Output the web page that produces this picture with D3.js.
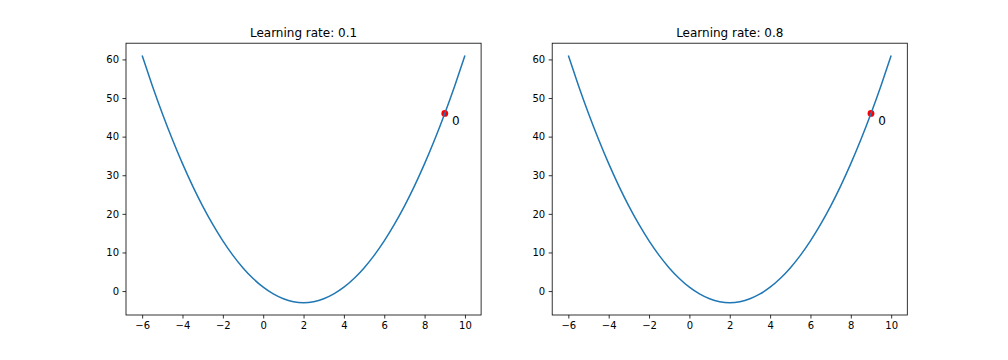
<!DOCTYPE html>
<html>
<head>
<meta charset="utf-8">
<script src="https://cdn.jsdelivr.net/npm/d3@7"></script>
<style>
body { margin: 0; background: #fff; }
svg { display: block; }
text { font-family: "DejaVu Sans", sans-serif; }
</style>
</head>
<body>
<svg id="chart" width="1008" height="360"></svg>
<script>
const titles = ["Learning rate: 0.1", "Learning rate: 0.8"];
const xs = [-6, -5.5, -5, -4.5, -4, -3.5, -3, -2.5, -2, -1.5, -1, -0.5, 0, 0.5, 1, 1.5, 2, 2.5, 3, 3.5, 4, 4.5, 5, 5.5, 6, 6.5, 7, 7.5, 8, 8.5, 9, 9.5, 10];
const ys = [61, 53.25, 46, 39.25, 33, 27.25, 22, 17.25, 13, 9.25, 6, 3.25, 1, -0.75, -2, -2.75, -3, -2.75, -2, -0.75, 1, 3.25, 6, 9.25, 13, 17.25, 22, 27.25, 33, 39.25, 46, 53.25, 61];
const pointX = [9];
const pointY = [46];
const pointLabel = ["0"];
const xTicks = [-6, -4, -2, 0, 2, 4, 6, 8, 10];
const yTicks = [0, 10, 20, 30, 40, 50, 60];

const svg = d3.select("#chart");
const axesLeft = [126, 552.2];
const axW = 355.1, axTop = 43.2, axBottom = 315;

const xMin = d3.min(xs), xMax = d3.max(xs);
const yMin = d3.min(ys), yMax = d3.max(ys);
const xPad = (xMax - xMin) * 0.05, yPad = (yMax - yMin) * 0.05;

titles.forEach((title, i) => {
  const left = axesLeft[i];
  const x = d3.scaleLinear().domain([xMin - xPad, xMax + xPad]).range([left, left + axW]);
  const y = d3.scaleLinear().domain([yMin - yPad, yMax + yPad]).range([axBottom, axTop]);
  const g = svg.append("g");

  // axes
  const xa = g.append("g").attr("transform", `translate(0,${axBottom})`)
    .call(d3.axisBottom(x).tickValues(xTicks).tickSize(3.5).tickPadding(3.5).tickFormat(d => d < 0 ? "\u2212" + Math.abs(d) : d));
  const ya = g.append("g").attr("transform", `translate(${left},0)`)
    .call(d3.axisLeft(y).tickValues(yTicks).tickSize(3.5).tickPadding(3.5));
  [xa, ya].forEach(a => {
    a.select(".domain").remove();
    a.selectAll("line").attr("stroke", "#000").attr("stroke-width", 0.8);
    a.selectAll("text").attr("font-size", 10).attr("fill", "#000").style("font-family", "DejaVu Sans, sans-serif");
  });

  // point (behind line)
  g.selectAll("circle.pt").data(pointX).enter().append("circle")
    .attr("cx", (d) => x(d)).attr("cy", (d, j) => y(pointY[j])).attr("r", 3.4).attr("fill", "#ff0000");

  // line
  const line = d3.line().x(d => x(d[0])).y(d => y(d[1])).curve(d3.curveNatural);
  g.append("path").datum(xs.map((v, j) => [v, ys[j]]))
    .attr("d", line).attr("fill", "none").attr("stroke", "#1f77b4").attr("stroke-width", 1.5);

  // label
  g.selectAll("text.lbl").data(pointX).enter().append("text")
    .attr("x", d => x(d) + 7.3).attr("y", (d, j) => y(pointY[j]) + 11.5)
    .attr("font-size", 12).attr("fill", "#000").text((d, j) => pointLabel[j]);

  // frame
  g.append("rect").attr("x", left).attr("y", axTop).attr("width", axW).attr("height", axBottom - axTop)
    .attr("fill", "none").attr("stroke", "#000").attr("stroke-width", 0.8);

  // title
  g.append("text").attr("x", left + axW / 2).attr("y", axTop - 6)
    .attr("text-anchor", "middle").attr("font-size", 12).attr("fill", "#000").text(title);
});
</script>
</body>
</html>
